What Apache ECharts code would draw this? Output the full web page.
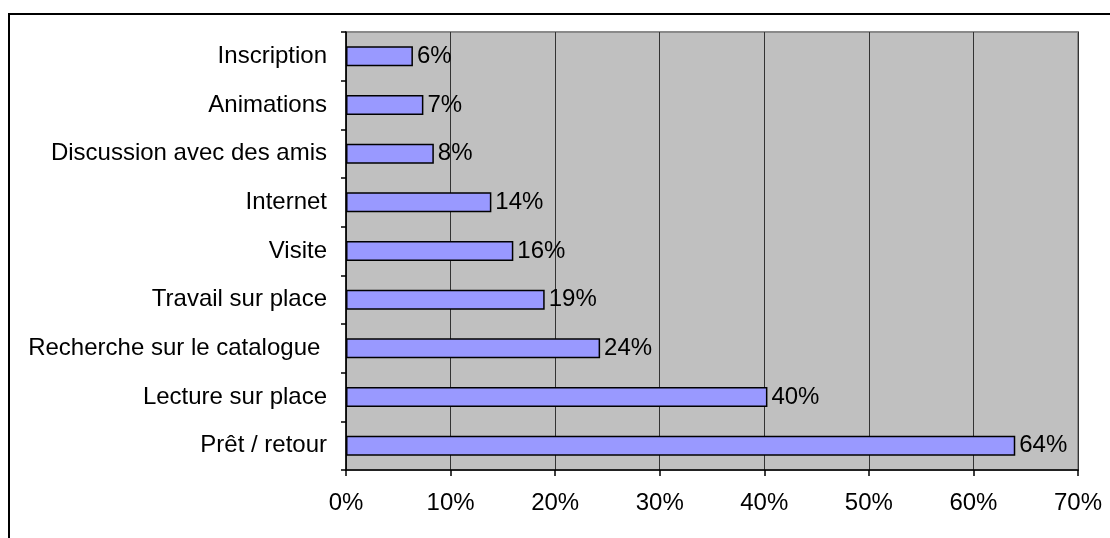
<!DOCTYPE html>
<html>
<head>
<meta charset="utf-8">
<script src="https://cdn.jsdelivr.net/npm/echarts@6/dist/echarts.min.js"></script>
<style>html,body{margin:0;padding:0;background:#fff}#c{width:1110px;height:538px}</style>
</head>
<body>
<div id="c"></div>
<script>
const categories = ["Inscription", "Animations", "Discussion avec des amis", "Internet", "Visite", "Travail sur place", "Recherche sur le catalogue ", "Lecture sur place", "Prêt / retour"];
const values = [6.4, 7.4, 8.4, 13.9, 16.0, 19.0, 24.3, 40.3, 64.0];
const xTicks = [0, 10, 20, 30, 40, 50, 60, 70];

const font = "'Liberation Sans', Arial, sans-serif";
const chart = echarts.init(document.getElementById('c'), null, {renderer: 'canvas'});
chart.setOption({
  animation: false,
  backgroundColor: '#fff',
  graphic: [{
    type: 'rect', z: 100, silent: true,
    shape: {x: 9, y: 14, width: 1200, height: 600},
    style: {fill: 'none', stroke: '#000', lineWidth: 2}
  }],
  grid: {
    left: 346, top: 32, width: 732, height: 438,
    show: true, backgroundColor: '#C0C0C0', borderColor: '#8a8a8a', borderWidth: 2,
    containLabel: false
  },
  xAxis: {
    type: 'value', min: xTicks[0], max: xTicks[xTicks.length - 1], interval: 10,
    axisLine: {show: true, lineStyle: {color: '#000', width: 1.5}},
    axisTick: {show: true, length: 6, lineStyle: {color: '#000', width: 1.5}},
    axisLabel: {formatter: v => v + '%', color: '#000', fontFamily: font, fontSize: 24, margin: 21},
    splitLine: {show: true, lineStyle: {color: '#333', width: 1}}
  },
  yAxis: {
    type: 'category', data: categories, inverse: true,
    axisLine: {show: true, lineStyle: {color: '#000', width: 1.5}},
    axisTick: {show: true, length: 5, lineStyle: {color: '#000', width: 1.5}},
    axisLabel: {color: '#000', fontFamily: font, fontSize: 24, margin: 19},
    splitLine: {show: false}
  },
  series: [{
    type: 'bar', data: values, barWidth: 20,
    itemStyle: {color: '#9999FF', borderColor: '#000', borderWidth: 1.5},
    label: {show: true, position: 'right', distance: 4, color: '#000', fontFamily: font, fontSize: 24,
      formatter: p => Math.round(p.value) + '%'}
  }]
});
</script>
</body>
</html>
